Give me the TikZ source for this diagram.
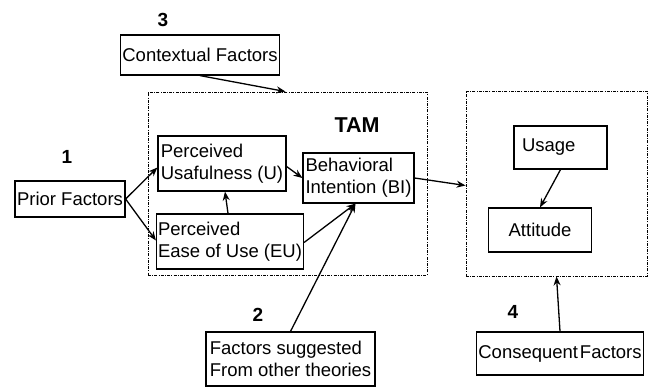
\documentclass[tikz,border=0pt]{standalone}
\usepackage{fontspec}
\setmainfont{Liberation Sans}
\usetikzlibrary{arrows.meta}
\pgfdeclarelayer{bg}
\pgfsetlayers{bg,main}
\tikzset{
  box/.style={draw, line width=1.2pt, inner xsep=1.5pt, inner ysep=1pt, align=left,
    font=\fontsize{18.5}{22}\selectfont},
  group/.style={draw, line width=0.9pt, dash pattern=on 3pt off 1.2pt on 1pt off 1.2pt},
  num/.style={font=\fontsize{19}{21}\selectfont\bfseries},
  link/.style={line width=1.3pt, -{Stealth[length=9pt,width=7pt]}}
}
\begin{document}
\begin{tikzpicture}[x=1pt, y=-1pt]
        \useasboundingbox (0,0) rectangle (650,388);
        \node (tam) [group, minimum width=279pt, minimum height=183pt] at (287.5, 183.5) {};
        \node (outbox) [group, minimum width=181pt, minimum height=185pt] at (556.5, 183.5) {};
        \node (tamlbl) [num, font=\fontsize{21.5}{24}\selectfont\bfseries] at (357, 125) {TAM};
        \node (ctx) [box, minimum width=156pt, minimum height=40pt] at (200, 55) {Contextual Factors};
        \node (prior) [box, minimum width=110pt, minimum height=36pt] at (70, 199) {Prior Factors};
        \node (pu) [box, minimum width=128pt, minimum height=55pt] at (222, 163.5) {Perceived\\Usafulness (U)};
        \node (eu) [box, minimum width=146pt, minimum height=55pt] at (230, 241.5) {Perceived\\Ease of Use (EU)};
        \node (bi) [box, minimum width=111pt, minimum height=50pt] at (358.5, 178) {Behavioral\\Intention (BI)};
        \node (other) [box, minimum width=169pt, minimum height=54pt] at (290.5, 359) {Factors suggested\\From other theories};
        \node (usage) [box, inner xsep=8pt, text width=77pt, minimum height=43pt] at (560.5, 147.5) {\raisebox{4pt}{Usage}};
        \node (att) [box, align=center, text width=100pt, minimum height=44pt] at (540, 230) {Attitude};
        \node (cons) [box, minimum width=166pt, minimum height=43pt] at (560, 353.5) {Consequent\hspace{0.1em}Factors};
        \node (n1) [num] at (67, 157) {1};
        \node (n2) [num] at (258, 315) {2};
        \node (n3) [num] at (163, 20) {3};
        \node (n4) [num] at (513, 312) {4};
        \begin{pgfonlayer}{bg}
                \draw [link] (ctx.south) -- ([xshift=-2pt]tam.north);
                \draw [link] (prior.east) -- ([yshift=-4pt]pu.west);
                \draw [link] (prior.east) -- ([yshift=1pt]eu.west);
                \draw [link] ([xshift=-2pt]eu.north) -- ([xshift=3pt]pu.south);
                \draw [link] ([yshift=-3pt]pu.east) -- (bi.west);
                \draw [link] ([yshift=-1pt]eu.east) -- ([xshift=-3pt]bi.south);
                \draw [link] (other.north) -- ([xshift=-3pt]bi.south);
                \draw [link] (bi.east) -- ([yshift=-2pt]outbox.west);
                \draw [link] (usage.south) -- (att.north);
                \draw [link] (cons.north) -- (outbox.south);
        \end{pgfonlayer}
\end{tikzpicture}
\end{document}
